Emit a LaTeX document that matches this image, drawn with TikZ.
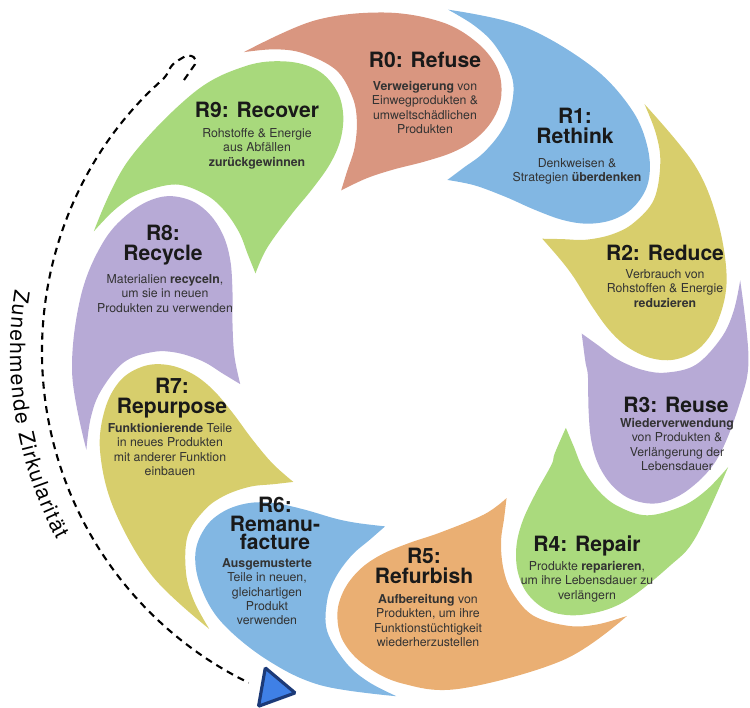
\documentclass[tikz,border=0pt]{standalone}
\usepackage{fontspec}
\setmainfont{TeX Gyre Heros}
\usepackage{xcolor}
\usetikzlibrary{positioning, shapes.geometric, arrows.meta, decorations.text, calc}

\definecolor{refuse}{HTML}{D99680}
\definecolor{rethink}{HTML}{82B7E3}
\definecolor{reduce}{HTML}{D8CE6C}
\definecolor{reuse}{HTML}{B7AAD6}
\definecolor{repair}{HTML}{AADA7D}
\definecolor{refurbish}{HTML}{EAAF73}
\definecolor{remanufacture}{HTML}{82B7E3}
\definecolor{repurpose}{HTML}{D7CE6C}
\definecolor{recycle}{HTML}{B7AAD6}
\definecolor{recover}{HTML}{A8D97C}
\definecolor{tipblue}{HTML}{3F80E6}
\definecolor{tipnavy}{HTML}{1C3A78}

\begin{document}
\begin{tikzpicture}[
    x=0.02cm, y=0.02cm,
    head/.style={font=\bfseries\fontsize{12}{11.5}\selectfont, align=center, inner sep=0pt, anchor=north, text=black!90},
    desc/.style={font=\fontsize{7}{8.2}\selectfont, align=center, inner sep=0pt, anchor=north, text=black!80},
    trail/.style={dash pattern=on 4pt off 3pt, line width=1.2pt},
    tiphead/.style={regular polygon, regular polygon sides=3, fill=tipblue, draw=tipnavy, line width=1.8pt, minimum size=0.9cm, inner sep=0pt, rounded corners=0.6pt}
]
    \useasboundingbox (0,0) rectangle (750,707);
    \coordinate (c) at (410,355);

    % Petals: \cw turns the round side, \ccw the tail, the tip and the hollow side
    \begin{scope}[shift={(c)}, xscale=0.97, yscale=0.99]
    \foreach \cw/\ccw/\col in {88.5/88.5/refuse, 51/52.5/rethink, 17/15/reduce, -14.5/-19/reuse,
                               -45/-50.5/repair, -87.3/-81/refurbish, -121.5/-123.3/remanufacture,
                               -158.5/-157.5/repurpose, -195.5/-194.5/recycle, -235.5/-231.5/recover}
        \fill[\col]
            plot[smooth, tension=0.6] coordinates {({\ccw+31}:348) ({\ccw+18}:349) ({\cw+6}:344) ({\cw-4}:335)
                ({\cw-11}:320) ({\cw-16}:300) ({\cw-18.5}:275) ({\cw-18.5}:250) ({\cw-16}:226) ({\cw-11}:207)
                ({\cw-3}:193) ({\cw+7}:185) ({\ccw+16}:181) ({\ccw+25}:178)}
            -- plot[smooth, tension=0.6] coordinates {({\ccw+25}:178) ({\ccw+21}:194) ({\ccw+17}:214)
                ({\ccw+14.7}:240) ({\ccw+14.5}:265) ({\ccw+16.5}:295) ({\ccw+21.5}:321) ({\ccw+26}:336)
                ({\ccw+31}:348)}
            -- cycle;
    \end{scope}

    % Headings
    \node[head] (h0) at (425,655) {R0: Refuse};
    \node[head] (h1) at (575,599) {R1:\\Rethink};
    \node[head] (h2) at (665,462) {R2: Reduce};
    \node[head] (h3) at (676,310) {R3: Reuse};
    \node[head] (h4) at (587,172) {R4: Repair};
    \node[head] (h5) at (424,159) {R5:\\Refurbish};
    \node[head, font=\bfseries\fontsize{12}{10.5}\selectfont] (h6) at (275,210) {R6:\\Remanu-\\facture};
    \node[head] (h7) at (172,329) {R7:\\Repurpose};
    \node[head] (h8) at (163,482) {R8:\\Recycle};
    \node[head] (h9) at (257,605) {R9: Recover};

    % Descriptions
    \node[desc] (b0) at (425,626) {\textbf{Verweigerung} von\\Einwegprodukten \&\\umweltschädlichen\\Produkten};
    \node[desc] (b1) at (577,549) {Denkweisen \&\\Strategien \textbf{überdenken}};
    \node[desc] (b2) at (665,438) {Verbrauch von\\Rohstoffen \& Energie\\\textbf{reduzieren}};
    \node[desc] (b3) at (677,289) {\textbf{Wiederverwendung}\\von Produkten \&\\Verlängerung der\\Lebensdauer};
    \node[desc] (b4) at (587,146) {Produkte \textbf{reparieren},\\um ihre Lebensdauer zu\\verlängern};
    \node[desc] (b5) at (428,113) {\textbf{Aufbereitung} von\\Produkten, um ihre\\Funktionstüchtigkeit\\wiederherzustellen};
    \node[desc] (b6) at (267,149) {\textbf{Ausgemusterte}\\Teile in neuen,\\gleichartigen\\Produkt\\verwenden};
    \node[desc] (b7) at (170,284) {\textbf{Funktionierende} Teile\\in neues Produkten\\mit anderer Funktion\\einbauen};
    \node[desc] (b8) at (165,433) {Materialien \textbf{recyceln},\\um sie in neuen\\Produkten zu verwenden};
    \node[desc] (b9) at (257,579) {Rohstoffe \& Energie\\aus Abfällen\\\textbf{zurückgewinnen}};

    % Circularity trail
    \node[tiphead, shape border rotate=-100] (tip) at (273,18) {};
    \coordinate (hookend) at (184,627);
    \coordinate (trailtop) at ($(c)+(131.5:368)$);
    \draw[trail, rounded corners=3pt] (hookend) -- (198,647) -- (189,653) -- (172,643) -- (trailtop)
        arc[start angle=131.5, end angle=244, radius=368];

    \begin{scope}[shift={(c)}]
    \path[decorate, decoration={text along path, text align={fit to path},
            text={|\fontsize{12}{12}\selectfont|Zunehmende Zirkularität}}]
        (171:400) arc[start angle=171, end angle=208, radius=400];
    \end{scope}
\end{tikzpicture}
\end{document}
